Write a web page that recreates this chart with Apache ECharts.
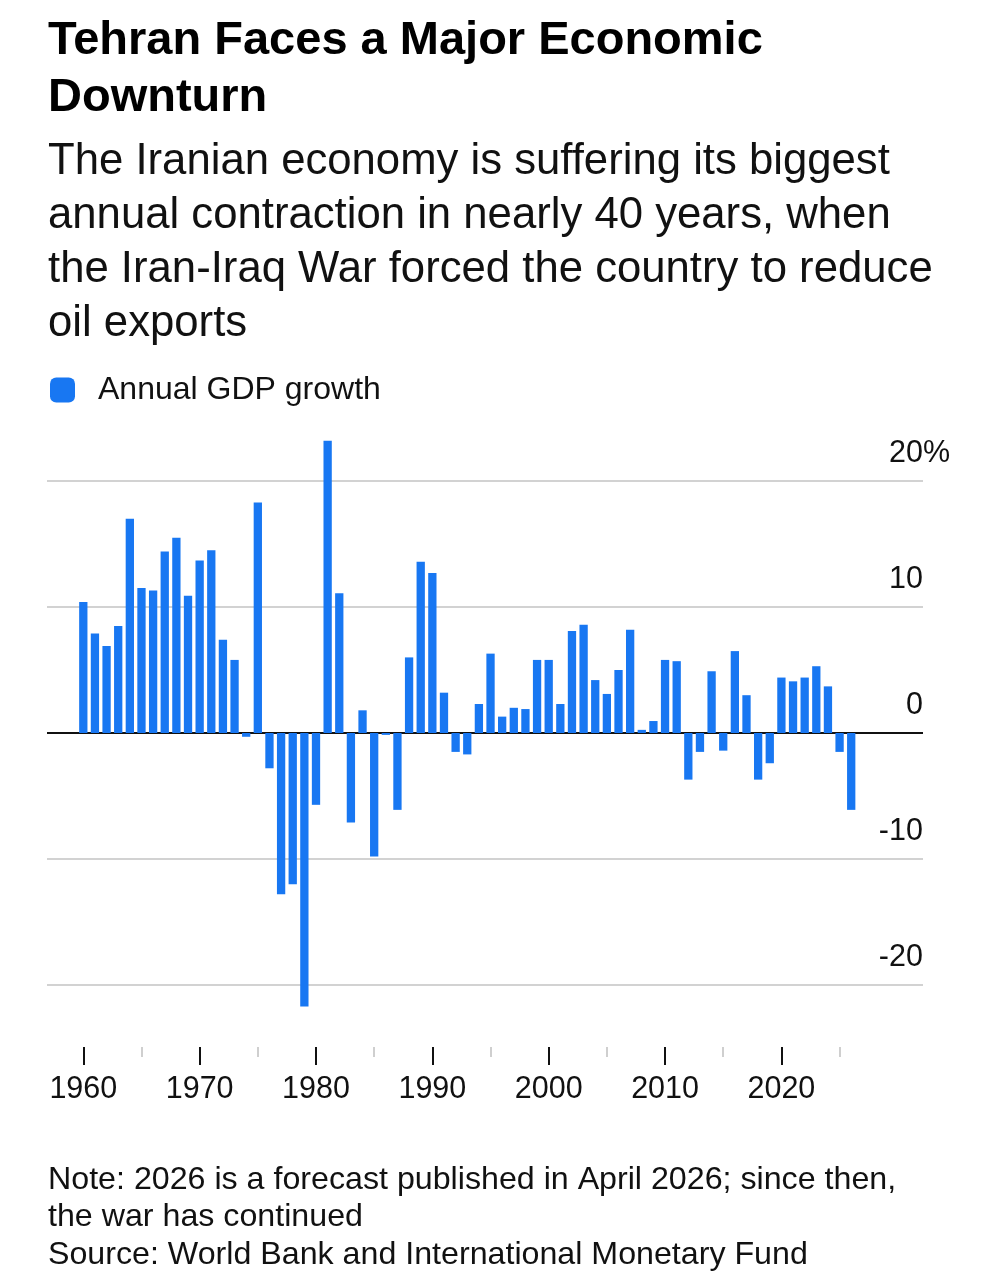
<!DOCTYPE html>
<html>
<head>
<meta charset="utf-8">
<title>Tehran Faces a Major Economic Downturn</title>
<script src="https://cdn.jsdelivr.net/npm/echarts@6/dist/echarts.min.js"></script>
<style>
  html, body { margin: 0; padding: 0; background: #fff; }
  #chart { width: 997px; height: 1280px; }
</style>
</head>
<body>
<div id="chart"></div>
<script>
// years on the x axis, one bar per year
var years = [];
for (var y = 1960; y <= 2026; y++) years.push(y);

// annual GDP growth, % (2026 = forecast)
var growth = [
  10.4, 7.9, 6.9, 8.5, 17.0, 11.5, 11.3, 14.4, 15.5, 10.9,
  13.7, 14.5, 7.4, 5.8, -0.3, 18.3, -2.8, -12.8, -12.0, -21.7,
  -5.7, 23.2, 11.1, -7.1, 1.8, -9.8, -0.15, -6.1, 6.0, 13.6,
  12.7, 3.2, -1.5, -1.7, 2.3, 6.3, 1.3, 2.0, 1.9, 5.8,
  5.8, 2.3, 8.1, 8.6, 4.2, 3.1, 5.0, 8.2, 0.25, 0.95,
  5.8, 5.7, -3.7, -1.5, 4.9, -1.4, 6.5, 3.0, -3.7, -2.4,
  4.4, 4.1, 4.4, 5.3, 3.7, -1.5, -6.1
];

// tick positions
var majorTicks = [1960, 1970, 1980, 1990, 2000, 2010, 2020];
var minorTicks = [1965, 1975, 1985, 1995, 2005, 2015, 2025];

var FONT = "'Liberation Sans', Arial, Helvetica, sans-serif";
var BLUE = '#1877f2';

var barData = years.map(function (yr, i) { return [yr, growth[i]]; });

var chart = echarts.init(document.getElementById('chart'));

var xBase = {
  type: 'value',
  min: 1956.88,
  max: 2032.17,
  position: 'bottom',
  offset: 62,
  axisLine: { show: false, onZero: false },
  splitLine: { show: false }
};

chart.setOption({
  animation: false,
  backgroundColor: '#fff',
  textStyle: { fontFamily: FONT },
  title: [{
    text: 'Tehran Faces a Major Economic\nDownturn',
    subtext: 'The Iranian economy is suffering its biggest\nannual contraction in nearly 40 years, when\nthe Iran-Iraq War forced the country to reduce\noil exports',
    left: 48,
    top: 13,
    padding: 0,
    itemGap: 8,
    textStyle: { fontFamily: FONT, fontSize: 47, fontWeight: 'bold', lineHeight: 57, color: '#000' },
    subtextStyle: { fontFamily: FONT, fontSize: 43.7, lineHeight: 54, color: '#111' }
  }, {
    text: 'Note: 2026 is a forecast published in April 2026; since then,\nthe war has continued\nSource: World Bank and International Monetary Fund',
    left: 48,
    top: 1161,
    padding: 0,
    textStyle: { fontFamily: FONT, fontSize: 32.2, fontWeight: 'normal', lineHeight: 37.5, color: '#111' }
  }],
  legend: {
    data: ['Annual GDP growth'],
    left: 50,
    top: 374,
    padding: 0,
    itemWidth: 25,
    itemHeight: 25,
    icon: 'roundRect',
    selectedMode: false,
    textStyle: { fontFamily: FONT, fontSize: 32, color: '#111', padding: [0, 0, 0, 18] }
  },
  grid: { left: 47, right: 74, top: 481, bottom: 295 },
  xAxis: [
    Object.assign({}, xBase, {
      axisTick: { show: true, customValues: majorTicks, length: 18, lineStyle: { color: '#111', width: 2 } },
      axisLabel: {
        show: true, customValues: majorTicks, fontFamily: FONT, fontSize: 30.5, color: '#111', margin: 27,
        formatter: function (v) { return String(v); }
      }
    }),
    Object.assign({}, xBase, {
      axisTick: { show: true, customValues: minorTicks, length: 10, lineStyle: { color: '#cfcfcf', width: 2 } },
      axisLabel: { show: false }
    })
  ],
  yAxis: {
    type: 'value',
    min: -20,
    max: 20,
    interval: 10,
    position: 'right',
    axisLine: { show: false },
    axisTick: { show: false },
    splitLine: { lineStyle: { color: ['#d2d2d2', '#d2d2d2', '#111', '#d2d2d2', '#d2d2d2'], width: 2 } },
    axisLabel: {
      align: 'right',
      verticalAlign: 'bottom',
      margin: 27,
      lineHeight: 30,
      padding: [0, 0, 12, 0],
      formatter: function (v) {
        return v === 20 ? '{n|' + v + '}{p|%}' : '{n|' + v + '}{h|%}';
      },
      rich: {
        n: { fontFamily: FONT, fontSize: 30.5, color: '#111', lineHeight: 30 },
        p: { fontFamily: FONT, fontSize: 30.5, color: '#111', lineHeight: 30 },
        h: { fontFamily: FONT, fontSize: 30.5, color: 'rgba(0,0,0,0)', lineHeight: 30 }
      }
    }
  },
  series: [{
    name: 'Annual GDP growth',
    type: 'bar',
    xAxisIndex: 0,
    data: barData,
    barWidth: 8.3,
    clip: false,
    itemStyle: { color: BLUE },
    emphasis: { disabled: true }
  }]
});
</script>
</body>
</html>
